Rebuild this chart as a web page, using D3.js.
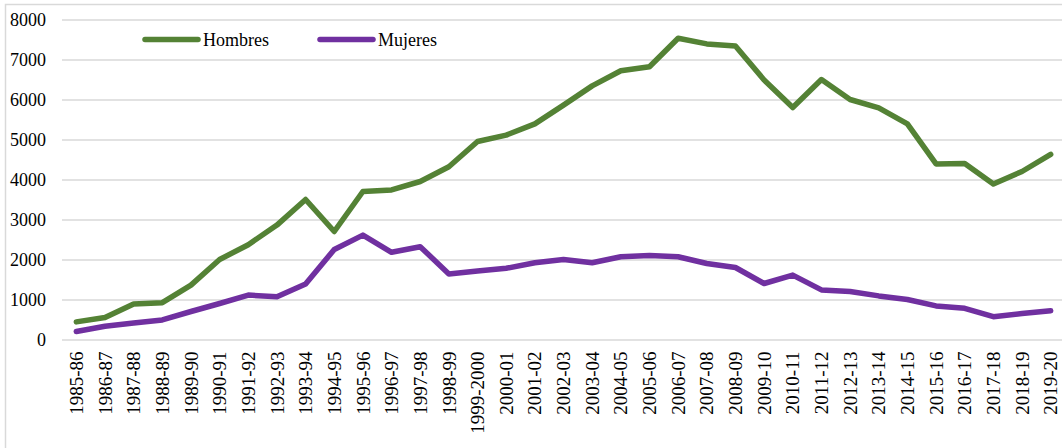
<!DOCTYPE html>
<html>
<head>
<meta charset="utf-8">
<script src="https://cdn.jsdelivr.net/npm/d3@7"></script>
<style>
  body { margin: 0; background: #fff; }
  svg { display: block; font-family: "Liberation Serif", "Times New Roman", serif; }
</style>
</head>
<body>
<svg id="chart" width="1062" height="448"></svg>
<script>
// --- Data ---
const seasons = ["1985-86", "1986-87", "1987-88", "1988-89", "1989-90", "1990-91", "1991-92",
  "1992-93", "1993-94", "1994-95", "1995-96", "1996-97", "1997-98", "1998-99", "1999-2000",
  "2000-01", "2001-02", "2002-03", "2003-04", "2004-05", "2005-06", "2006-07", "2007-08",
  "2008-09", "2009-10", "2010-11", "2011-12", "2012-13", "2013-14", "2014-15", "2015-16",
  "2016-17", "2017-18", "2018-19", "2019-20"];

const hombres = [440, 550, 890, 920, 1360, 2000, 2370, 2860, 3500, 2700, 3700, 3740, 3950,
  4320, 4950, 5110, 5390, 5860, 6340, 6720, 6820, 7530, 7390, 7340, 6490, 5800, 6500, 6000,
  5790, 5390, 4390, 4400, 3890, 4200, 4630];

const mujeres = [200, 330, 410, 490, 700, 900, 1110, 1070, 1390, 2250, 2610, 2180, 2320, 1640,
  1710, 1780, 1920, 2000, 1920, 2070, 2100, 2070, 1900, 1800, 1400, 1610, 1240, 1200, 1090,
  1000, 840, 780, 570, 650, 720];

const yTicks = [0, 1000, 2000, 3000, 4000, 5000, 6000, 7000, 8000];

const series = [
  { name: "Hombres", values: hombres, color: "#548235" },
  { name: "Mujeres", values: mujeres, color: "#7030a0" }
];

const svg = d3.select("#chart");
const width = +svg.attr("width");
const height = +svg.attr("height");

// --- Frame ---
svg.append("path")
  .attr("d", `M5.5,${height} V4.5 H${width}`)
  .attr("fill", "none")
  .attr("stroke", "#d9d9d9")
  .attr("stroke-width", 1.5);

// --- Scales ---
const x = d3.scaleBand()
  .domain(seasons)
  .range([62, 1065]);

const y = d3.scaleLinear()
  .domain([0, 8000])
  .range([339.5, 19.5]);

// --- Gridlines ---
svg.append("g")
  .attr("transform", "translate(62,0)")
  .call(d3.axisLeft(y).tickValues(yTicks).tickSize(-(width - 62)).tickFormat(""))
  .call(g => g.select(".domain").remove())
  .selectAll("line")
  .attr("stroke", "#d9d9d9")
  .attr("stroke-width", 1.5);

// --- Y axis labels ---
svg.append("g")
  .attr("transform", "translate(62,0)")
  .call(d3.axisLeft(y).tickValues(yTicks).tickSize(0).tickPadding(16).tickFormat(d3.format("d")))
  .call(g => g.select(".domain").remove())
  .selectAll("text")
  .attr("font-family", "'Liberation Serif', 'Times New Roman', serif")
  .attr("font-size", 18)
  .attr("fill", "#000");

// --- X axis labels ---
svg.append("g")
  .attr("transform", "translate(0,339.5)")
  .call(d3.axisBottom(x).tickSize(0).tickPadding(0))
  .call(g => g.select(".domain").remove())
  .selectAll("text")
  .attr("font-family", "'Liberation Serif', 'Times New Roman', serif")
  .attr("font-size", 19)
  .attr("fill", "#000")
  .attr("text-anchor", "end")
  .attr("transform", "rotate(-90)")
  .attr("x", -12)
  .attr("y", 0)
  .attr("dy", "0.35em");

// --- Lines ---
const line = d3.line()
  .x((d, i) => x(seasons[i]) + x.bandwidth() / 2)
  .y(d => y(d));

series.forEach(s => {
  svg.append("path")
    .datum(s.values)
    .attr("fill", "none")
    .attr("stroke", s.color)
    .attr("stroke-width", 5.5)
    .attr("stroke-linejoin", "round")
    .attr("stroke-linecap", "round")
    .attr("d", line);
});

// --- Legend ---
const legend = svg.append("g")
  .attr("transform", "translate(145,39.5)");

const legendItems = legend.selectAll(".legend-item")
  .data(series)
  .join("g")
  .attr("class", "legend-item")
  .attr("transform", (_, i) => `translate(${i * 175}, 0)`);

legendItems.append("line")
  .attr("x1", 0)
  .attr("x2", 53)
  .attr("stroke", d => d.color)
  .attr("stroke-width", 5.5)
  .attr("stroke-linecap", "round");

legendItems.append("text")
  .attr("x", 58)
  .attr("dy", "0.35em")
  .attr("font-size", 18)
  .attr("fill", "#000")
  .text(d => d.name);
</script>
</body>
</html>
